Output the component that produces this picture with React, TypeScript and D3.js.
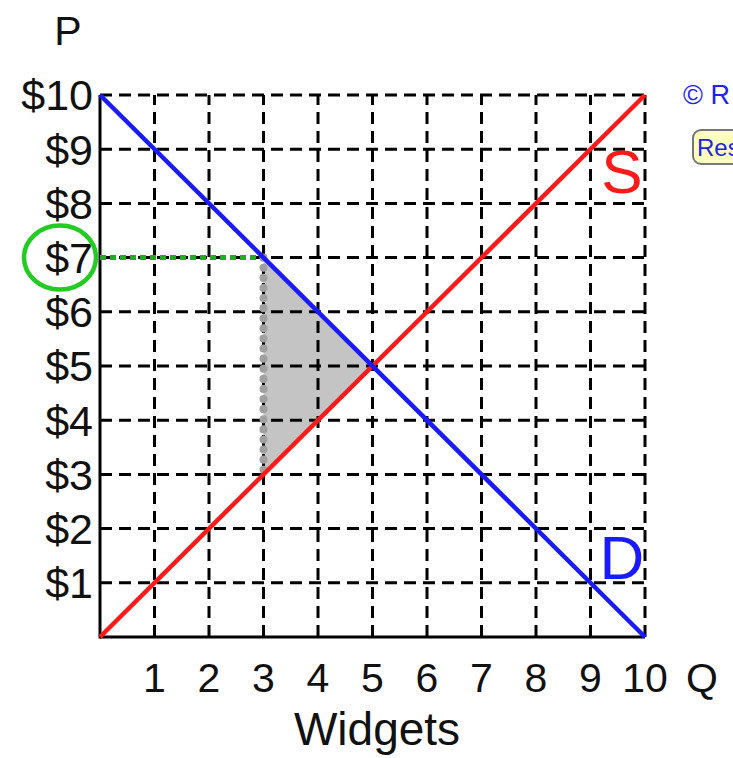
import React from "react";
import * as d3 from "d3";

const quantities = [0, 1, 2, 3, 4, 5, 6, 7, 8, 9, 10];
const prices = [0, 1, 2, 3, 4, 5, 6, 7, 8, 9, 10];
const xTickLabels = ["1", "2", "3", "4", "5", "6", "7", "8", "9", "10"];
const yTickLabels = ["$1", "$2", "$3", "$4", "$5", "$6", "$7", "$8", "$9", "$10"];
const demand: [number, number][] = [[0, 10], [10, 0]];
const supply: [number, number][] = [[0, 0], [10, 10]];
const deadweight: [number, number][] = [[3, 7], [5, 5], [3, 3]];
const priceLine: [number, number][] = [[0, 7], [3, 7]];
const qtyLine: [number, number][] = [[3, 7], [3, 3]];
const highlightedPrice = 7;

const FONT = "'Liberation Sans', Arial, Helvetica, sans-serif";

export default function App() {
  const W = 733, H = 758;
  const x = d3.scaleLinear().domain([0, 10]).range([100, 645]);
  const y = d3.scaleLinear().domain([0, 10]).range([637, 95]);
  const line = d3.line<[number, number]>().x(d => x(d[0])).y(d => y(d[1]));
  return (
    <svg width={W} height={H} style={{ position: "absolute", left: 0, top: 0, background: "#fff" }}>
      <rect x={0} y={0} width={W} height={H} fill="#fff" />
      {/* deadweight triangle */}
      <path d={line(deadweight) + "Z"} fill="#c4c4c4" stroke="none" />
      {/* grid */}
      {quantities.slice(1).map(q => (
        <line key={"gx" + q} x1={x(q)} x2={x(q)} y1={y(0)} y2={y(10)} stroke="#000" strokeWidth={3} strokeDasharray="12 7" />
      ))}
      {prices.slice(1).map(p => (
        <line key={"gy" + p} x1={x(0)} x2={x(10)} y1={y(p)} y2={y(p)} stroke="#000" strokeWidth={3} strokeDasharray="12 7" />
      ))}
      {/* axes */}
      <line x1={x(0)} x2={x(0)} y1={y(10)} y2={y(0) + 1.5} stroke="#000" strokeWidth={3} />
      <line x1={x(0)} x2={x(10)} y1={y(0)} y2={y(0)} stroke="#000" strokeWidth={3} />
      {/* price and quantity markers */}
      <path d={line(priceLine)!} stroke="#22aa22" strokeWidth={5} strokeDasharray="6 4" fill="none" />
      <path d={line(qtyLine)!} stroke="#a0a0a0" strokeWidth={8} strokeDasharray="0.1 10" strokeLinecap="round" fill="none" />
      {/* curves */}
      <path d={line(supply)!} stroke="#ff1a1a" strokeWidth={4.5} fill="none" />
      <path d={line(demand)!} stroke="#1a1aff" strokeWidth={4.5} fill="none" />
      {/* tick labels */}
      {yTickLabels.map((t, i) => (
        <text key={t} x={93} y={y(prices[i + 1])} dy="0.36em" textAnchor="end" fontFamily={FONT} fontSize={43} fill="#111">{t}</text>
      ))}
      {xTickLabels.map((t, i) => (
        <text key={t} x={x(quantities[i + 1])} y={692} textAnchor="middle" fontFamily={FONT} fontSize={41} fill="#111">{t}</text>
      ))}
      <text x={68} y={45} textAnchor="middle" fontFamily={FONT} fontSize={41} fill="#111">P</text>
      <text x={702} y={692} textAnchor="middle" fontFamily={FONT} fontSize={41} fill="#111">Q</text>
      <text x={377} y={745} textAnchor="middle" fontFamily={FONT} fontSize={46} fill="#111">Widgets</text>
      <text x={622} y={193} textAnchor="middle" fontFamily={FONT} fontSize={62} fill="#ff1a1a">S</text>
      <text x={622} y={579} textAnchor="middle" fontFamily={FONT} fontSize={62} fill="#1a1aff">D</text>
      {/* circle around highlighted price */}
      <ellipse cx={60} cy={y(highlightedPrice)} rx={36} ry={32} fill="none" stroke="#22cc22" strokeWidth={4.5} />
      {/* copyright and reset */}
      <text x={683} y={104} fontFamily={FONT} fontSize={27} fill="#2222ee">© R</text>
      <rect x={693} y={130} width={60} height={34} rx={8} fill="#ffffc0" stroke="#777" strokeWidth={2} />
      <text x={697} y={156} fontFamily={FONT} fontSize={24} fill="#2222ee">Res</text>
    </svg>
  );
}
